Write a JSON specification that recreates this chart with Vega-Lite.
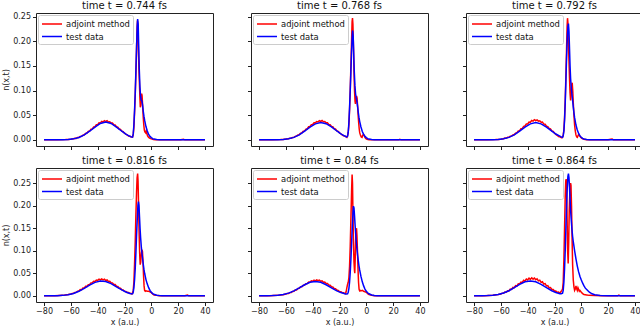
{
"$schema": "https://vega.github.io/schema/vega-lite/v6.json",
"padding": {"left": 2, "top": 0, "right": 2, "bottom": 0},
"background": "white",
"config": {
  "font": "DejaVu Sans",
  "view": {"stroke": "#222", "strokeWidth": 1},
  "axis": {"grid": false, "domain": false, "minExtent": 0, "tickColor": "#222", "tickSize": 3.5, "labelFontSize": 8, "labelColor": "#222", "titleFontSize": 8, "titleFontWeight": "normal", "titleColor": "#222", "labelPadding": 2, "titlePadding": 2},
  "title": {"fontSize": 10, "fontWeight": "normal", "offset": 2, "color": "#111"},
  "legend": {"orient": "top-left", "offset": 2, "fillColor": "rgba(255,255,255,0.8)", "strokeColor": "#ccc", "cornerRadius": 2, "padding": 3, "symbolType": "M-2,0H2", "symbolStrokeWidth": 1.5, "symbolSize": 100, "symbolOffset": 5, "labelOffset": 8, "labelFontSize": 8.4, "labelColor": "#111", "rowPadding": 1.5}
},
"datasets": {"d": [
{"p":"a","k":"a","x":-80,"y":0},{"p":"a","k":"a","x":-70,"y":0.0002},{"p":"a","k":"a","x":-64,"y":0.0005},{"p":"a","k":"a","x":-62,"y":0.0008},{"p":"a","k":"a","x":-60,"y":0.0013},{"p":"a","k":"a","x":-58,"y":0.0021},{"p":"a","k":"a","x":-57,"y":0.0032},{"p":"a","k":"a","x":-56,"y":0.003},{"p":"a","k":"a","x":-55,"y":0.0048},{"p":"a","k":"a","x":-54,"y":0.0048},{"p":"a","k":"a","x":-53,"y":0.0068},{"p":"a","k":"a","x":-52,"y":0.0072},{"p":"a","k":"a","x":-51,"y":0.0095},{"p":"a","k":"a","x":-50,"y":0.0102},{"p":"a","k":"a","x":-49,"y":0.013},{"p":"a","k":"a","x":-48,"y":0.0138},{"p":"a","k":"a","x":-47,"y":0.017},{"p":"a","k":"a","x":-46,"y":0.0178},{"p":"a","k":"a","x":-45,"y":0.0215},{"p":"a","k":"a","x":-44,"y":0.0222},{"p":"a","k":"a","x":-43,"y":0.0262},{"p":"a","k":"a","x":-42,"y":0.0268},{"p":"a","k":"a","x":-41,"y":0.0305},{"p":"a","k":"a","x":-40,"y":0.0308},{"p":"a","k":"a","x":-39,"y":0.0345},{"p":"a","k":"a","x":-38,"y":0.0342},{"p":"a","k":"a","x":-37,"y":0.0375},{"p":"a","k":"a","x":-36,"y":0.0362},{"p":"a","k":"a","x":-35,"y":0.039},{"p":"a","k":"a","x":-34,"y":0.0372},{"p":"a","k":"a","x":-33,"y":0.0388},{"p":"a","k":"a","x":-32,"y":0.0362},{"p":"a","k":"a","x":-31,"y":0.0368},{"p":"a","k":"a","x":-30,"y":0.034},{"p":"a","k":"a","x":-29,"y":0.0342},{"p":"a","k":"a","x":-28,"y":0.0305},{"p":"a","k":"a","x":-27,"y":0.0302},{"p":"a","k":"a","x":-26,"y":0.0265},{"p":"a","k":"a","x":-25,"y":0.0258},{"p":"a","k":"a","x":-24,"y":0.022},{"p":"a","k":"a","x":-23,"y":0.0212},{"p":"a","k":"a","x":-22,"y":0.0175},{"p":"a","k":"a","x":-21,"y":0.0165},{"p":"a","k":"a","x":-20,"y":0.0135},{"p":"a","k":"a","x":-19,"y":0.0118},{"p":"a","k":"a","x":-18,"y":0.0098},{"p":"a","k":"a","x":-17,"y":0.0078},{"p":"a","k":"a","x":-16,"y":0.0072},{"p":"a","k":"a","x":-15,"y":0.006},{"p":"a","k":"a","x":-14,"y":0.006},{"p":"a","k":"a","x":-13.5,"y":0.01},{"p":"a","k":"a","x":-13,"y":0.025},{"p":"a","k":"a","x":-12.5,"y":0.055},{"p":"a","k":"a","x":-12,"y":0.09},{"p":"a","k":"a","x":-11.5,"y":0.135},{"p":"a","k":"a","x":-11,"y":0.185},{"p":"a","k":"a","x":-10.6,"y":0.228},{"p":"a","k":"a","x":-10.3,"y":0.242},{"p":"a","k":"a","x":-10,"y":0.232},{"p":"a","k":"a","x":-9.6,"y":0.18},{"p":"a","k":"a","x":-9.2,"y":0.14},{"p":"a","k":"a","x":-8.8,"y":0.11},{"p":"a","k":"a","x":-8.5,"y":0.085},{"p":"a","k":"a","x":-8.2,"y":0.066},{"p":"a","k":"a","x":-7.9,"y":0.07},{"p":"a","k":"a","x":-7.5,"y":0.09},{"p":"a","k":"a","x":-7.2,"y":0.094},{"p":"a","k":"a","x":-6.9,"y":0.09},{"p":"a","k":"a","x":-6.6,"y":0.075},{"p":"a","k":"a","x":-6.3,"y":0.06},{"p":"a","k":"a","x":-6,"y":0.045},{"p":"a","k":"a","x":-5.6,"y":0.03},{"p":"a","k":"a","x":-5.2,"y":0.02},{"p":"a","k":"a","x":-4.8,"y":0.016},{"p":"a","k":"a","x":-4.2,"y":0.014},{"p":"a","k":"a","x":-3.8,"y":0.018},{"p":"a","k":"a","x":-3.3,"y":0.013},{"p":"a","k":"a","x":-2.8,"y":0.008},{"p":"a","k":"a","x":-2,"y":0.005},{"p":"a","k":"a","x":-1,"y":0.003},{"p":"a","k":"a","x":0,"y":0.002},{"p":"a","k":"a","x":1.5,"y":0.0005},{"p":"a","k":"a","x":3,"y":0},{"p":"a","k":"a","x":22,"y":0},{"p":"a","k":"a","x":24,"y":0.001},{"p":"a","k":"a","x":25,"y":0},{"p":"a","k":"a","x":40,"y":0},
{"p":"a","k":"t","x":-80,"y":0},{"p":"a","k":"t","x":-70,"y":0.0001},{"p":"a","k":"t","x":-66,"y":0.0002},{"p":"a","k":"t","x":-62,"y":0.0007},{"p":"a","k":"t","x":-58,"y":0.002},{"p":"a","k":"t","x":-54,"y":0.0049},{"p":"a","k":"t","x":-50,"y":0.01},{"p":"a","k":"t","x":-46,"y":0.0175},{"p":"a","k":"t","x":-42,"y":0.026},{"p":"a","k":"t","x":-38,"y":0.0332},{"p":"a","k":"t","x":-34,"y":0.036},{"p":"a","k":"t","x":-30,"y":0.0332},{"p":"a","k":"t","x":-26,"y":0.026},{"p":"a","k":"t","x":-22,"y":0.0175},{"p":"a","k":"t","x":-19,"y":0.0117},{"p":"a","k":"t","x":-16,"y":0.0072},{"p":"a","k":"t","x":-15,"y":0.006},{"p":"a","k":"t","x":-14,"y":0.0055},{"p":"a","k":"t","x":-13.5,"y":0.012},{"p":"a","k":"t","x":-13,"y":0.03},{"p":"a","k":"t","x":-12.5,"y":0.06},{"p":"a","k":"t","x":-12,"y":0.095},{"p":"a","k":"t","x":-11.5,"y":0.14},{"p":"a","k":"t","x":-11,"y":0.19},{"p":"a","k":"t","x":-10.5,"y":0.232},{"p":"a","k":"t","x":-10.2,"y":0.245},{"p":"a","k":"t","x":-9.8,"y":0.235},{"p":"a","k":"t","x":-9.4,"y":0.19},{"p":"a","k":"t","x":-9,"y":0.145},{"p":"a","k":"t","x":-8.5,"y":0.108},{"p":"a","k":"t","x":-8,"y":0.088},{"p":"a","k":"t","x":-7.5,"y":0.08},{"p":"a","k":"t","x":-7,"y":0.079},{"p":"a","k":"t","x":-6.5,"y":0.07},{"p":"a","k":"t","x":-6,"y":0.058},{"p":"a","k":"t","x":-5.5,"y":0.048},{"p":"a","k":"t","x":-5,"y":0.04},{"p":"a","k":"t","x":-4,"y":0.027},{"p":"a","k":"t","x":-3,"y":0.018},{"p":"a","k":"t","x":-2,"y":0.011},{"p":"a","k":"t","x":-1,"y":0.007},{"p":"a","k":"t","x":0,"y":0.0045},{"p":"a","k":"t","x":1,"y":0.0025},{"p":"a","k":"t","x":2,"y":0.0015},{"p":"a","k":"t","x":4,"y":0.0005},{"p":"a","k":"t","x":6,"y":0.0001},{"p":"a","k":"t","x":10,"y":0},{"p":"a","k":"t","x":40,"y":0},

{"p":"b","k":"a","x":-80,"y":0},{"p":"b","k":"a","x":-70,"y":0.0002},{"p":"b","k":"a","x":-64,"y":0.0006},{"p":"b","k":"a","x":-62,"y":0.0009},{"p":"b","k":"a","x":-60,"y":0.0015},{"p":"b","k":"a","x":-58,"y":0.0023},{"p":"b","k":"a","x":-57,"y":0.0034},{"p":"b","k":"a","x":-56,"y":0.0033},{"p":"b","k":"a","x":-55,"y":0.005},{"p":"b","k":"a","x":-54,"y":0.0052},{"p":"b","k":"a","x":-53,"y":0.0071},{"p":"b","k":"a","x":-52,"y":0.0076},{"p":"b","k":"a","x":-51,"y":0.0099},{"p":"b","k":"a","x":-50,"y":0.0106},{"p":"b","k":"a","x":-49,"y":0.0134},{"p":"b","k":"a","x":-48,"y":0.0142},{"p":"b","k":"a","x":-47,"y":0.0174},{"p":"b","k":"a","x":-46,"y":0.0182},{"p":"b","k":"a","x":-45,"y":0.0219},{"p":"b","k":"a","x":-44,"y":0.0225},{"p":"b","k":"a","x":-43,"y":0.0266},{"p":"b","k":"a","x":-42,"y":0.0271},{"p":"b","k":"a","x":-41,"y":0.0308},{"p":"b","k":"a","x":-40,"y":0.0312},{"p":"b","k":"a","x":-39,"y":0.0348},{"p":"b","k":"a","x":-38,"y":0.0345},{"p":"b","k":"a","x":-37,"y":0.0372},{"p":"b","k":"a","x":-36,"y":0.0365},{"p":"b","k":"a","x":-35,"y":0.0388},{"p":"b","k":"a","x":-34,"y":0.0375},{"p":"b","k":"a","x":-33,"y":0.0392},{"p":"b","k":"a","x":-32,"y":0.0368},{"p":"b","k":"a","x":-31,"y":0.0372},{"p":"b","k":"a","x":-30,"y":0.0346},{"p":"b","k":"a","x":-29,"y":0.0348},{"p":"b","k":"a","x":-28,"y":0.0312},{"p":"b","k":"a","x":-27,"y":0.0309},{"p":"b","k":"a","x":-26,"y":0.0272},{"p":"b","k":"a","x":-25,"y":0.0266},{"p":"b","k":"a","x":-24,"y":0.0228},{"p":"b","k":"a","x":-23,"y":0.022},{"p":"b","k":"a","x":-22,"y":0.0183},{"p":"b","k":"a","x":-21,"y":0.0172},{"p":"b","k":"a","x":-20,"y":0.0142},{"p":"b","k":"a","x":-19,"y":0.0124},{"p":"b","k":"a","x":-18,"y":0.0102},{"p":"b","k":"a","x":-17,"y":0.0082},{"p":"b","k":"a","x":-16,"y":0.0075},{"p":"b","k":"a","x":-15,"y":0.006},{"p":"b","k":"a","x":-14.5,"y":0.005},{"p":"b","k":"a","x":-14,"y":0.008},{"p":"b","k":"a","x":-13.5,"y":0.015},{"p":"b","k":"a","x":-13,"y":0.03},{"p":"b","k":"a","x":-12.5,"y":0.06},{"p":"b","k":"a","x":-12,"y":0.1},{"p":"b","k":"a","x":-11.5,"y":0.15},{"p":"b","k":"a","x":-11,"y":0.2},{"p":"b","k":"a","x":-10.6,"y":0.24},{"p":"b","k":"a","x":-10.3,"y":0.247},{"p":"b","k":"a","x":-10,"y":0.235},{"p":"b","k":"a","x":-9.6,"y":0.19},{"p":"b","k":"a","x":-9.2,"y":0.14},{"p":"b","k":"a","x":-8.8,"y":0.1},{"p":"b","k":"a","x":-8.4,"y":0.078},{"p":"b","k":"a","x":-8.1,"y":0.073},{"p":"b","k":"a","x":-7.7,"y":0.082},{"p":"b","k":"a","x":-7.3,"y":0.089},{"p":"b","k":"a","x":-6.9,"y":0.085},{"p":"b","k":"a","x":-6.5,"y":0.068},{"p":"b","k":"a","x":-6.1,"y":0.05},{"p":"b","k":"a","x":-5.7,"y":0.035},{"p":"b","k":"a","x":-5.3,"y":0.022},{"p":"b","k":"a","x":-4.9,"y":0.014},{"p":"b","k":"a","x":-4.4,"y":0.01},{"p":"b","k":"a","x":-3.8,"y":0.006},{"p":"b","k":"a","x":-3.2,"y":0.005},{"p":"b","k":"a","x":-2.7,"y":0.009},{"p":"b","k":"a","x":-2.2,"y":0.011},{"p":"b","k":"a","x":-1.7,"y":0.01},{"p":"b","k":"a","x":-1.2,"y":0.006},{"p":"b","k":"a","x":-0.5,"y":0.003},{"p":"b","k":"a","x":0.5,"y":0.001},{"p":"b","k":"a","x":2,"y":0},{"p":"b","k":"a","x":24,"y":0},{"p":"b","k":"a","x":25,"y":0.001},{"p":"b","k":"a","x":26,"y":0},{"p":"b","k":"a","x":40,"y":0},
{"p":"b","k":"t","x":-80,"y":0},{"p":"b","k":"t","x":-70,"y":0.0001},{"p":"b","k":"t","x":-66,"y":0.0002},{"p":"b","k":"t","x":-62,"y":0.0008},{"p":"b","k":"t","x":-58,"y":0.0021},{"p":"b","k":"t","x":-54,"y":0.005},{"p":"b","k":"t","x":-50,"y":0.0102},{"p":"b","k":"t","x":-46,"y":0.0176},{"p":"b","k":"t","x":-42,"y":0.0259},{"p":"b","k":"t","x":-38,"y":0.0325},{"p":"b","k":"t","x":-34,"y":0.035},{"p":"b","k":"t","x":-30,"y":0.0328},{"p":"b","k":"t","x":-26,"y":0.0264},{"p":"b","k":"t","x":-22,"y":0.018},{"p":"b","k":"t","x":-19,"y":0.0122},{"p":"b","k":"t","x":-16,"y":0.0077},{"p":"b","k":"t","x":-15,"y":0.0064},{"p":"b","k":"t","x":-14.5,"y":0.006},{"p":"b","k":"t","x":-14,"y":0.0075},{"p":"b","k":"t","x":-13.5,"y":0.015},{"p":"b","k":"t","x":-13,"y":0.035},{"p":"b","k":"t","x":-12.5,"y":0.065},{"p":"b","k":"t","x":-12,"y":0.1},{"p":"b","k":"t","x":-11.5,"y":0.14},{"p":"b","k":"t","x":-11,"y":0.18},{"p":"b","k":"t","x":-10.5,"y":0.21},{"p":"b","k":"t","x":-10.2,"y":0.222},{"p":"b","k":"t","x":-9.8,"y":0.21},{"p":"b","k":"t","x":-9.4,"y":0.175},{"p":"b","k":"t","x":-9,"y":0.14},{"p":"b","k":"t","x":-8.5,"y":0.11},{"p":"b","k":"t","x":-8,"y":0.093},{"p":"b","k":"t","x":-7.5,"y":0.085},{"p":"b","k":"t","x":-7,"y":0.078},{"p":"b","k":"t","x":-6.5,"y":0.068},{"p":"b","k":"t","x":-6,"y":0.056},{"p":"b","k":"t","x":-5.5,"y":0.046},{"p":"b","k":"t","x":-5,"y":0.038},{"p":"b","k":"t","x":-4,"y":0.026},{"p":"b","k":"t","x":-3,"y":0.017},{"p":"b","k":"t","x":-2,"y":0.011},{"p":"b","k":"t","x":-1,"y":0.007},{"p":"b","k":"t","x":0,"y":0.0045},{"p":"b","k":"t","x":1,"y":0.0025},{"p":"b","k":"t","x":2,"y":0.0015},{"p":"b","k":"t","x":4,"y":0.0005},{"p":"b","k":"t","x":6,"y":0.0001},{"p":"b","k":"t","x":10,"y":0},{"p":"b","k":"t","x":40,"y":0},

{"p":"c","k":"a","x":-80,"y":0},{"p":"c","k":"a","x":-70,"y":0.0002},{"p":"c","k":"a","x":-64,"y":0.0005},{"p":"c","k":"a","x":-62,"y":0.0009},{"p":"c","k":"a","x":-60,"y":0.0014},{"p":"c","k":"a","x":-58,"y":0.0022},{"p":"c","k":"a","x":-57,"y":0.0035},{"p":"c","k":"a","x":-56,"y":0.0032},{"p":"c","k":"a","x":-55,"y":0.0052},{"p":"c","k":"a","x":-54,"y":0.0051},{"p":"c","k":"a","x":-53,"y":0.0072},{"p":"c","k":"a","x":-52,"y":0.0076},{"p":"c","k":"a","x":-51,"y":0.01},{"p":"c","k":"a","x":-50,"y":0.0107},{"p":"c","k":"a","x":-49,"y":0.0137},{"p":"c","k":"a","x":-48,"y":0.0145},{"p":"c","k":"a","x":-47,"y":0.0179},{"p":"c","k":"a","x":-46,"y":0.0187},{"p":"c","k":"a","x":-45,"y":0.0226},{"p":"c","k":"a","x":-44,"y":0.0233},{"p":"c","k":"a","x":-43,"y":0.0275},{"p":"c","k":"a","x":-42,"y":0.0281},{"p":"c","k":"a","x":-41,"y":0.032},{"p":"c","k":"a","x":-40,"y":0.0323},{"p":"c","k":"a","x":-39,"y":0.0362},{"p":"c","k":"a","x":-38,"y":0.0358},{"p":"c","k":"a","x":-37,"y":0.0393},{"p":"c","k":"a","x":-36,"y":0.038},{"p":"c","k":"a","x":-35,"y":0.0408},{"p":"c","k":"a","x":-34,"y":0.039},{"p":"c","k":"a","x":-33,"y":0.0406},{"p":"c","k":"a","x":-32,"y":0.038},{"p":"c","k":"a","x":-31,"y":0.0386},{"p":"c","k":"a","x":-30,"y":0.0356},{"p":"c","k":"a","x":-29,"y":0.0359},{"p":"c","k":"a","x":-28,"y":0.032},{"p":"c","k":"a","x":-27,"y":0.0317},{"p":"c","k":"a","x":-26,"y":0.0278},{"p":"c","k":"a","x":-25,"y":0.027},{"p":"c","k":"a","x":-24,"y":0.0231},{"p":"c","k":"a","x":-23,"y":0.0222},{"p":"c","k":"a","x":-22,"y":0.0183},{"p":"c","k":"a","x":-21,"y":0.0172},{"p":"c","k":"a","x":-20,"y":0.014},{"p":"c","k":"a","x":-19,"y":0.0112},{"p":"c","k":"a","x":-18,"y":0.0092},{"p":"c","k":"a","x":-17,"y":0.0068},{"p":"c","k":"a","x":-16,"y":0.0062},{"p":"c","k":"a","x":-15,"y":0.0048},{"p":"c","k":"a","x":-14.5,"y":0.004},{"p":"c","k":"a","x":-14,"y":0.005},{"p":"c","k":"a","x":-13.5,"y":0.01},{"p":"c","k":"a","x":-13,"y":0.02},{"p":"c","k":"a","x":-12.5,"y":0.045},{"p":"c","k":"a","x":-12,"y":0.08},{"p":"c","k":"a","x":-11.5,"y":0.13},{"p":"c","k":"a","x":-11,"y":0.185},{"p":"c","k":"a","x":-10.6,"y":0.23},{"p":"c","k":"a","x":-10.3,"y":0.247},{"p":"c","k":"a","x":-10,"y":0.238},{"p":"c","k":"a","x":-9.6,"y":0.2},{"p":"c","k":"a","x":-9.2,"y":0.16},{"p":"c","k":"a","x":-8.8,"y":0.125},{"p":"c","k":"a","x":-8.4,"y":0.095},{"p":"c","k":"a","x":-8,"y":0.08},{"p":"c","k":"a","x":-7.6,"y":0.09},{"p":"c","k":"a","x":-7.2,"y":0.11},{"p":"c","k":"a","x":-6.8,"y":0.116},{"p":"c","k":"a","x":-6.4,"y":0.1},{"p":"c","k":"a","x":-6,"y":0.075},{"p":"c","k":"a","x":-5.5,"y":0.05},{"p":"c","k":"a","x":-5,"y":0.03},{"p":"c","k":"a","x":-4.5,"y":0.018},{"p":"c","k":"a","x":-4,"y":0.01},{"p":"c","k":"a","x":-3.5,"y":0.006},{"p":"c","k":"a","x":-3,"y":0.005},{"p":"c","k":"a","x":-2.5,"y":0.008},{"p":"c","k":"a","x":-2,"y":0.011},{"p":"c","k":"a","x":-1.5,"y":0.01},{"p":"c","k":"a","x":-1,"y":0.007},{"p":"c","k":"a","x":0,"y":0.004},{"p":"c","k":"a","x":1,"y":0.002},{"p":"c","k":"a","x":2,"y":0.001},{"p":"c","k":"a","x":4,"y":0},{"p":"c","k":"a","x":20,"y":0},{"p":"c","k":"a","x":22,"y":0.001},{"p":"c","k":"a","x":23,"y":0.0015},{"p":"c","k":"a","x":24,"y":0},{"p":"c","k":"a","x":40,"y":0},
{"p":"c","k":"t","x":-80,"y":0},{"p":"c","k":"t","x":-70,"y":0.0001},{"p":"c","k":"t","x":-66,"y":0.0002},{"p":"c","k":"t","x":-62,"y":0.0008},{"p":"c","k":"t","x":-58,"y":0.0021},{"p":"c","k":"t","x":-54,"y":0.005},{"p":"c","k":"t","x":-50,"y":0.0102},{"p":"c","k":"t","x":-46,"y":0.0176},{"p":"c","k":"t","x":-42,"y":0.0259},{"p":"c","k":"t","x":-38,"y":0.0325},{"p":"c","k":"t","x":-34,"y":0.035},{"p":"c","k":"t","x":-30,"y":0.0325},{"p":"c","k":"t","x":-26,"y":0.0259},{"p":"c","k":"t","x":-22,"y":0.0176},{"p":"c","k":"t","x":-19,"y":0.0118},{"p":"c","k":"t","x":-16,"y":0.0075},{"p":"c","k":"t","x":-15,"y":0.006},{"p":"c","k":"t","x":-14,"y":0.005},{"p":"c","k":"t","x":-13.5,"y":0.008},{"p":"c","k":"t","x":-13,"y":0.018},{"p":"c","k":"t","x":-12.5,"y":0.04},{"p":"c","k":"t","x":-12,"y":0.075},{"p":"c","k":"t","x":-11.5,"y":0.12},{"p":"c","k":"t","x":-11,"y":0.165},{"p":"c","k":"t","x":-10.5,"y":0.205},{"p":"c","k":"t","x":-10,"y":0.23},{"p":"c","k":"t","x":-9.6,"y":0.236},{"p":"c","k":"t","x":-9.2,"y":0.22},{"p":"c","k":"t","x":-8.8,"y":0.185},{"p":"c","k":"t","x":-8.4,"y":0.15},{"p":"c","k":"t","x":-8,"y":0.125},{"p":"c","k":"t","x":-7.5,"y":0.105},{"p":"c","k":"t","x":-7,"y":0.093},{"p":"c","k":"t","x":-6.5,"y":0.08},{"p":"c","k":"t","x":-6,"y":0.067},{"p":"c","k":"t","x":-5.5,"y":0.055},{"p":"c","k":"t","x":-5,"y":0.045},{"p":"c","k":"t","x":-4,"y":0.03},{"p":"c","k":"t","x":-3,"y":0.02},{"p":"c","k":"t","x":-2,"y":0.013},{"p":"c","k":"t","x":-1,"y":0.008},{"p":"c","k":"t","x":0,"y":0.005},{"p":"c","k":"t","x":1,"y":0.003},{"p":"c","k":"t","x":2,"y":0.0018},{"p":"c","k":"t","x":4,"y":0.0006},{"p":"c","k":"t","x":6,"y":0.0001},{"p":"c","k":"t","x":10,"y":0},{"p":"c","k":"t","x":40,"y":0},

{"p":"d","k":"a","x":-80,"y":0.0002},{"p":"d","k":"a","x":-72,"y":0.0003},{"p":"d","k":"a","x":-66,"y":0.001},{"p":"d","k":"a","x":-62,"y":0.0027},{"p":"d","k":"a","x":-60,"y":0.004},{"p":"d","k":"a","x":-59,"y":0.0052},{"p":"d","k":"a","x":-58,"y":0.0055},{"p":"d","k":"a","x":-57,"y":0.0075},{"p":"d","k":"a","x":-56,"y":0.0079},{"p":"d","k":"a","x":-55,"y":0.0102},{"p":"d","k":"a","x":-54,"y":0.0105},{"p":"d","k":"a","x":-53,"y":0.0138},{"p":"d","k":"a","x":-52,"y":0.0137},{"p":"d","k":"a","x":-51,"y":0.0172},{"p":"d","k":"a","x":-50,"y":0.0175},{"p":"d","k":"a","x":-49,"y":0.0212},{"p":"d","k":"a","x":-48,"y":0.021},{"p":"d","k":"a","x":-47,"y":0.0248},{"p":"d","k":"a","x":-46,"y":0.0252},{"p":"d","k":"a","x":-45,"y":0.0285},{"p":"d","k":"a","x":-44,"y":0.029},{"p":"d","k":"a","x":-43,"y":0.0322},{"p":"d","k":"a","x":-42,"y":0.0318},{"p":"d","k":"a","x":-41,"y":0.0348},{"p":"d","k":"a","x":-40,"y":0.0342},{"p":"d","k":"a","x":-39,"y":0.0368},{"p":"d","k":"a","x":-38,"y":0.0352},{"p":"d","k":"a","x":-37,"y":0.0375},{"p":"d","k":"a","x":-36,"y":0.0355},{"p":"d","k":"a","x":-35,"y":0.0368},{"p":"d","k":"a","x":-34,"y":0.0341},{"p":"d","k":"a","x":-33,"y":0.0352},{"p":"d","k":"a","x":-32,"y":0.0318},{"p":"d","k":"a","x":-31,"y":0.0322},{"p":"d","k":"a","x":-30,"y":0.0288},{"p":"d","k":"a","x":-29,"y":0.0287},{"p":"d","k":"a","x":-28,"y":0.0252},{"p":"d","k":"a","x":-27,"y":0.025},{"p":"d","k":"a","x":-26,"y":0.0212},{"p":"d","k":"a","x":-25,"y":0.0208},{"p":"d","k":"a","x":-24,"y":0.0172},{"p":"d","k":"a","x":-23,"y":0.0168},{"p":"d","k":"a","x":-22,"y":0.0135},{"p":"d","k":"a","x":-21,"y":0.0128},{"p":"d","k":"a","x":-20,"y":0.0102},{"p":"d","k":"a","x":-19,"y":0.0098},{"p":"d","k":"a","x":-18,"y":0.0075},{"p":"d","k":"a","x":-17,"y":0.0072},{"p":"d","k":"a","x":-16,"y":0.0055},{"p":"d","k":"a","x":-15,"y":0.005},{"p":"d","k":"a","x":-14.5,"y":0.004},{"p":"d","k":"a","x":-14,"y":0.006},{"p":"d","k":"a","x":-13.5,"y":0.012},{"p":"d","k":"a","x":-13,"y":0.03},{"p":"d","k":"a","x":-12.5,"y":0.07},{"p":"d","k":"a","x":-12,"y":0.12},{"p":"d","k":"a","x":-11.5,"y":0.18},{"p":"d","k":"a","x":-11,"y":0.23},{"p":"d","k":"a","x":-10.6,"y":0.262},{"p":"d","k":"a","x":-10.2,"y":0.271},{"p":"d","k":"a","x":-9.9,"y":0.255},{"p":"d","k":"a","x":-9.5,"y":0.2},{"p":"d","k":"a","x":-9.1,"y":0.14},{"p":"d","k":"a","x":-8.7,"y":0.095},{"p":"d","k":"a","x":-8.3,"y":0.069},{"p":"d","k":"a","x":-7.9,"y":0.075},{"p":"d","k":"a","x":-7.4,"y":0.095},{"p":"d","k":"a","x":-7,"y":0.102},{"p":"d","k":"a","x":-6.6,"y":0.098},{"p":"d","k":"a","x":-6.2,"y":0.075},{"p":"d","k":"a","x":-5.8,"y":0.045},{"p":"d","k":"a","x":-5.4,"y":0.022},{"p":"d","k":"a","x":-5,"y":0.012},{"p":"d","k":"a","x":-4.5,"y":0.01},{"p":"d","k":"a","x":-4,"y":0.011},{"p":"d","k":"a","x":-3,"y":0.01},{"p":"d","k":"a","x":-2,"y":0.01},{"p":"d","k":"a","x":-1,"y":0.009},{"p":"d","k":"a","x":0,"y":0.007},{"p":"d","k":"a","x":1,"y":0.004},{"p":"d","k":"a","x":2,"y":0.002},{"p":"d","k":"a","x":4,"y":0.001},{"p":"d","k":"a","x":6,"y":0},{"p":"d","k":"a","x":25,"y":0},{"p":"d","k":"a","x":27,"y":0.0015},{"p":"d","k":"a","x":28,"y":0},{"p":"d","k":"a","x":40,"y":0},
{"p":"d","k":"t","x":-80,"y":0.0002},{"p":"d","k":"t","x":-74,"y":0.0003},{"p":"d","k":"t","x":-70,"y":0.0004},{"p":"d","k":"t","x":-66,"y":0.001},{"p":"d","k":"t","x":-62,"y":0.0025},{"p":"d","k":"t","x":-58,"y":0.0053},{"p":"d","k":"t","x":-54,"y":0.01},{"p":"d","k":"t","x":-50,"y":0.0164},{"p":"d","k":"t","x":-46,"y":0.0236},{"p":"d","k":"t","x":-42,"y":0.0298},{"p":"d","k":"t","x":-38,"y":0.0329},{"p":"d","k":"t","x":-34,"y":0.0318},{"p":"d","k":"t","x":-30,"y":0.027},{"p":"d","k":"t","x":-26,"y":0.02},{"p":"d","k":"t","x":-22,"y":0.013},{"p":"d","k":"t","x":-19,"y":0.0086},{"p":"d","k":"t","x":-16,"y":0.0053},{"p":"d","k":"t","x":-15,"y":0.0045},{"p":"d","k":"t","x":-14,"y":0.0045},{"p":"d","k":"t","x":-13.5,"y":0.008},{"p":"d","k":"t","x":-13,"y":0.018},{"p":"d","k":"t","x":-12.5,"y":0.035},{"p":"d","k":"t","x":-12,"y":0.06},{"p":"d","k":"t","x":-11.5,"y":0.095},{"p":"d","k":"t","x":-11,"y":0.135},{"p":"d","k":"t","x":-10.5,"y":0.17},{"p":"d","k":"t","x":-10,"y":0.2},{"p":"d","k":"t","x":-9.6,"y":0.209},{"p":"d","k":"t","x":-9.2,"y":0.2},{"p":"d","k":"t","x":-8.8,"y":0.175},{"p":"d","k":"t","x":-8.4,"y":0.15},{"p":"d","k":"t","x":-8,"y":0.13},{"p":"d","k":"t","x":-7.5,"y":0.11},{"p":"d","k":"t","x":-7,"y":0.095},{"p":"d","k":"t","x":-6.5,"y":0.082},{"p":"d","k":"t","x":-6,"y":0.07},{"p":"d","k":"t","x":-5.5,"y":0.059},{"p":"d","k":"t","x":-5,"y":0.05},{"p":"d","k":"t","x":-4,"y":0.036},{"p":"d","k":"t","x":-3,"y":0.026},{"p":"d","k":"t","x":-2,"y":0.018},{"p":"d","k":"t","x":-1,"y":0.012},{"p":"d","k":"t","x":0,"y":0.008},{"p":"d","k":"t","x":1,"y":0.005},{"p":"d","k":"t","x":2,"y":0.0035},{"p":"d","k":"t","x":4,"y":0.0015},{"p":"d","k":"t","x":6,"y":0.0006},{"p":"d","k":"t","x":8,"y":0.0002},{"p":"d","k":"t","x":12,"y":0},{"p":"d","k":"t","x":40,"y":0},

{"p":"e","k":"a","x":-80,"y":0.0002},{"p":"e","k":"a","x":-72,"y":0.0003},{"p":"e","k":"a","x":-66,"y":0.001},{"p":"e","k":"a","x":-62,"y":0.0026},{"p":"e","k":"a","x":-60,"y":0.0038},{"p":"e","k":"a","x":-59,"y":0.005},{"p":"e","k":"a","x":-58,"y":0.0052},{"p":"e","k":"a","x":-57,"y":0.0071},{"p":"e","k":"a","x":-56,"y":0.0075},{"p":"e","k":"a","x":-55,"y":0.0097},{"p":"e","k":"a","x":-54,"y":0.01},{"p":"e","k":"a","x":-53,"y":0.013},{"p":"e","k":"a","x":-52,"y":0.013},{"p":"e","k":"a","x":-51,"y":0.0163},{"p":"e","k":"a","x":-50,"y":0.0166},{"p":"e","k":"a","x":-49,"y":0.02},{"p":"e","k":"a","x":-48,"y":0.0199},{"p":"e","k":"a","x":-47,"y":0.0235},{"p":"e","k":"a","x":-46,"y":0.0238},{"p":"e","k":"a","x":-45,"y":0.027},{"p":"e","k":"a","x":-44,"y":0.0274},{"p":"e","k":"a","x":-43,"y":0.0305},{"p":"e","k":"a","x":-42,"y":0.03},{"p":"e","k":"a","x":-41,"y":0.033},{"p":"e","k":"a","x":-40,"y":0.0323},{"p":"e","k":"a","x":-39,"y":0.0348},{"p":"e","k":"a","x":-38,"y":0.0333},{"p":"e","k":"a","x":-37,"y":0.0355},{"p":"e","k":"a","x":-36,"y":0.0336},{"p":"e","k":"a","x":-35,"y":0.0348},{"p":"e","k":"a","x":-34,"y":0.0322},{"p":"e","k":"a","x":-33,"y":0.0333},{"p":"e","k":"a","x":-32,"y":0.03},{"p":"e","k":"a","x":-31,"y":0.0305},{"p":"e","k":"a","x":-30,"y":0.0272},{"p":"e","k":"a","x":-29,"y":0.0271},{"p":"e","k":"a","x":-28,"y":0.0238},{"p":"e","k":"a","x":-27,"y":0.0236},{"p":"e","k":"a","x":-26,"y":0.02},{"p":"e","k":"a","x":-25,"y":0.0197},{"p":"e","k":"a","x":-24,"y":0.0162},{"p":"e","k":"a","x":-23,"y":0.0159},{"p":"e","k":"a","x":-22,"y":0.0128},{"p":"e","k":"a","x":-21,"y":0.0121},{"p":"e","k":"a","x":-20,"y":0.0096},{"p":"e","k":"a","x":-19,"y":0.0093},{"p":"e","k":"a","x":-18,"y":0.0071},{"p":"e","k":"a","x":-17,"y":0.0068},{"p":"e","k":"a","x":-16,"y":0.005},{"p":"e","k":"a","x":-15.5,"y":0.0045},{"p":"e","k":"a","x":-15,"y":0.01},{"p":"e","k":"a","x":-14.5,"y":0.018},{"p":"e","k":"a","x":-14,"y":0.025},{"p":"e","k":"a","x":-13.5,"y":0.03},{"p":"e","k":"a","x":-13,"y":0.04},{"p":"e","k":"a","x":-12.5,"y":0.065},{"p":"e","k":"a","x":-12,"y":0.11},{"p":"e","k":"a","x":-11.5,"y":0.17},{"p":"e","k":"a","x":-11,"y":0.23},{"p":"e","k":"a","x":-10.6,"y":0.269},{"p":"e","k":"a","x":-10.3,"y":0.25},{"p":"e","k":"a","x":-10,"y":0.19},{"p":"e","k":"a","x":-9.6,"y":0.12},{"p":"e","k":"a","x":-9.2,"y":0.075},{"p":"e","k":"a","x":-8.8,"y":0.055},{"p":"e","k":"a","x":-8.6,"y":0.05},{"p":"e","k":"a","x":-8.3,"y":0.08},{"p":"e","k":"a","x":-8,"y":0.12},{"p":"e","k":"a","x":-7.6,"y":0.148},{"p":"e","k":"a","x":-7.3,"y":0.15},{"p":"e","k":"a","x":-7,"y":0.135},{"p":"e","k":"a","x":-6.6,"y":0.1},{"p":"e","k":"a","x":-6.2,"y":0.06},{"p":"e","k":"a","x":-5.8,"y":0.03},{"p":"e","k":"a","x":-5.4,"y":0.015},{"p":"e","k":"a","x":-5,"y":0.011},{"p":"e","k":"a","x":-4.5,"y":0.012},{"p":"e","k":"a","x":-4,"y":0.011},{"p":"e","k":"a","x":-3,"y":0.012},{"p":"e","k":"a","x":-2,"y":0.01},{"p":"e","k":"a","x":-1,"y":0.009},{"p":"e","k":"a","x":0,"y":0.008},{"p":"e","k":"a","x":1,"y":0.005},{"p":"e","k":"a","x":2,"y":0.003},{"p":"e","k":"a","x":4,"y":0.0012},{"p":"e","k":"a","x":6,"y":0.0003},{"p":"e","k":"a","x":8,"y":0},{"p":"e","k":"a","x":40,"y":0},
{"p":"e","k":"t","x":-80,"y":0.0002},{"p":"e","k":"t","x":-74,"y":0.0003},{"p":"e","k":"t","x":-70,"y":0.0005},{"p":"e","k":"t","x":-66,"y":0.0012},{"p":"e","k":"t","x":-62,"y":0.0029},{"p":"e","k":"t","x":-58,"y":0.006},{"p":"e","k":"t","x":-54,"y":0.011},{"p":"e","k":"t","x":-50,"y":0.0175},{"p":"e","k":"t","x":-46,"y":0.0245},{"p":"e","k":"t","x":-42,"y":0.03},{"p":"e","k":"t","x":-38,"y":0.032},{"p":"e","k":"t","x":-34,"y":0.03},{"p":"e","k":"t","x":-30,"y":0.0246},{"p":"e","k":"t","x":-26,"y":0.0177},{"p":"e","k":"t","x":-22,"y":0.011},{"p":"e","k":"t","x":-19,"y":0.0072},{"p":"e","k":"t","x":-16,"y":0.0045},{"p":"e","k":"t","x":-15,"y":0.004},{"p":"e","k":"t","x":-14,"y":0.0045},{"p":"e","k":"t","x":-13.5,"y":0.008},{"p":"e","k":"t","x":-13,"y":0.016},{"p":"e","k":"t","x":-12.5,"y":0.03},{"p":"e","k":"t","x":-12,"y":0.052},{"p":"e","k":"t","x":-11.5,"y":0.08},{"p":"e","k":"t","x":-11,"y":0.115},{"p":"e","k":"t","x":-10.5,"y":0.15},{"p":"e","k":"t","x":-10,"y":0.182},{"p":"e","k":"t","x":-9.6,"y":0.199},{"p":"e","k":"t","x":-9.2,"y":0.195},{"p":"e","k":"t","x":-8.8,"y":0.178},{"p":"e","k":"t","x":-8.4,"y":0.158},{"p":"e","k":"t","x":-8,"y":0.14},{"p":"e","k":"t","x":-7.5,"y":0.12},{"p":"e","k":"t","x":-7,"y":0.104},{"p":"e","k":"t","x":-6.5,"y":0.09},{"p":"e","k":"t","x":-6,"y":0.078},{"p":"e","k":"t","x":-5.5,"y":0.067},{"p":"e","k":"t","x":-5,"y":0.058},{"p":"e","k":"t","x":-4,"y":0.043},{"p":"e","k":"t","x":-3,"y":0.031},{"p":"e","k":"t","x":-2,"y":0.022},{"p":"e","k":"t","x":-1,"y":0.015},{"p":"e","k":"t","x":0,"y":0.01},{"p":"e","k":"t","x":1,"y":0.0068},{"p":"e","k":"t","x":2,"y":0.0045},{"p":"e","k":"t","x":4,"y":0.002},{"p":"e","k":"t","x":6,"y":0.0008},{"p":"e","k":"t","x":8,"y":0.0003},{"p":"e","k":"t","x":12,"y":0},{"p":"e","k":"t","x":40,"y":0},

{"p":"f","k":"a","x":-80,"y":0.0002},{"p":"f","k":"a","x":-72,"y":0.0004},{"p":"f","k":"a","x":-66,"y":0.0011},{"p":"f","k":"a","x":-62,"y":0.0029},{"p":"f","k":"a","x":-60,"y":0.0042},{"p":"f","k":"a","x":-59,"y":0.0058},{"p":"f","k":"a","x":-58,"y":0.0056},{"p":"f","k":"a","x":-57,"y":0.0082},{"p":"f","k":"a","x":-56,"y":0.0081},{"p":"f","k":"a","x":-55,"y":0.0112},{"p":"f","k":"a","x":-54,"y":0.0108},{"p":"f","k":"a","x":-53,"y":0.015},{"p":"f","k":"a","x":-52,"y":0.0142},{"p":"f","k":"a","x":-51,"y":0.0186},{"p":"f","k":"a","x":-50,"y":0.0181},{"p":"f","k":"a","x":-49,"y":0.0228},{"p":"f","k":"a","x":-48,"y":0.0218},{"p":"f","k":"a","x":-47,"y":0.0267},{"p":"f","k":"a","x":-46,"y":0.0262},{"p":"f","k":"a","x":-45,"y":0.0306},{"p":"f","k":"a","x":-44,"y":0.0298},{"p":"f","k":"a","x":-43,"y":0.0345},{"p":"f","k":"a","x":-42,"y":0.0328},{"p":"f","k":"a","x":-41,"y":0.0372},{"p":"f","k":"a","x":-40,"y":0.0352},{"p":"f","k":"a","x":-39,"y":0.0392},{"p":"f","k":"a","x":-38,"y":0.0365},{"p":"f","k":"a","x":-37,"y":0.04},{"p":"f","k":"a","x":-36,"y":0.037},{"p":"f","k":"a","x":-35,"y":0.0394},{"p":"f","k":"a","x":-34,"y":0.0355},{"p":"f","k":"a","x":-33,"y":0.0378},{"p":"f","k":"a","x":-32,"y":0.0332},{"p":"f","k":"a","x":-31,"y":0.0348},{"p":"f","k":"a","x":-30,"y":0.0298},{"p":"f","k":"a","x":-29,"y":0.0312},{"p":"f","k":"a","x":-28,"y":0.0262},{"p":"f","k":"a","x":-27,"y":0.0272},{"p":"f","k":"a","x":-26,"y":0.022},{"p":"f","k":"a","x":-25,"y":0.0228},{"p":"f","k":"a","x":-24,"y":0.0178},{"p":"f","k":"a","x":-23,"y":0.0185},{"p":"f","k":"a","x":-22,"y":0.014},{"p":"f","k":"a","x":-21,"y":0.0142},{"p":"f","k":"a","x":-20,"y":0.0105},{"p":"f","k":"a","x":-19,"y":0.0108},{"p":"f","k":"a","x":-18,"y":0.0078},{"p":"f","k":"a","x":-17,"y":0.0082},{"p":"f","k":"a","x":-16,"y":0.006},{"p":"f","k":"a","x":-15,"y":0.01},{"p":"f","k":"a","x":-14.5,"y":0.012},{"p":"f","k":"a","x":-14,"y":0.015},{"p":"f","k":"a","x":-13.5,"y":0.03},{"p":"f","k":"a","x":-13,"y":0.08},{"p":"f","k":"a","x":-12.5,"y":0.15},{"p":"f","k":"a","x":-12,"y":0.22},{"p":"f","k":"a","x":-11.6,"y":0.255},{"p":"f","k":"a","x":-11.3,"y":0.259},{"p":"f","k":"a","x":-11,"y":0.24},{"p":"f","k":"a","x":-10.6,"y":0.17},{"p":"f","k":"a","x":-10.2,"y":0.1},{"p":"f","k":"a","x":-9.8,"y":0.072},{"p":"f","k":"a","x":-9.4,"y":0.12},{"p":"f","k":"a","x":-9,"y":0.19},{"p":"f","k":"a","x":-8.5,"y":0.235},{"p":"f","k":"a","x":-8,"y":0.25},{"p":"f","k":"a","x":-7.7,"y":0.245},{"p":"f","k":"a","x":-7.3,"y":0.2},{"p":"f","k":"a","x":-6.9,"y":0.13},{"p":"f","k":"a","x":-6.5,"y":0.07},{"p":"f","k":"a","x":-6,"y":0.035},{"p":"f","k":"a","x":-5.5,"y":0.02},{"p":"f","k":"a","x":-5,"y":0.012},{"p":"f","k":"a","x":-4.5,"y":0.015},{"p":"f","k":"a","x":-4,"y":0.022},{"p":"f","k":"a","x":-3.5,"y":0.016},{"p":"f","k":"a","x":-3,"y":0.012},{"p":"f","k":"a","x":-2.5,"y":0.018},{"p":"f","k":"a","x":-2,"y":0.014},{"p":"f","k":"a","x":-1.5,"y":0.01},{"p":"f","k":"a","x":-1,"y":0.012},{"p":"f","k":"a","x":0,"y":0.008},{"p":"f","k":"a","x":1,"y":0.005},{"p":"f","k":"a","x":2,"y":0.003},{"p":"f","k":"a","x":4,"y":0.002},{"p":"f","k":"a","x":6,"y":0.001},{"p":"f","k":"a","x":10,"y":0.0005},{"p":"f","k":"a","x":16,"y":0},{"p":"f","k":"a","x":27,"y":0},{"p":"f","k":"a","x":28,"y":0.0015},{"p":"f","k":"a","x":29,"y":0},{"p":"f","k":"a","x":40,"y":0},
{"p":"f","k":"t","x":-80,"y":0.0002},{"p":"f","k":"t","x":-74,"y":0.0003},{"p":"f","k":"t","x":-70,"y":0.0005},{"p":"f","k":"t","x":-66,"y":0.0013},{"p":"f","k":"t","x":-62,"y":0.003},{"p":"f","k":"t","x":-58,"y":0.0062},{"p":"f","k":"t","x":-54,"y":0.0113},{"p":"f","k":"t","x":-50,"y":0.018},{"p":"f","k":"t","x":-46,"y":0.0253},{"p":"f","k":"t","x":-42,"y":0.031},{"p":"f","k":"t","x":-38,"y":0.033},{"p":"f","k":"t","x":-34,"y":0.031},{"p":"f","k":"t","x":-30,"y":0.0253},{"p":"f","k":"t","x":-26,"y":0.0182},{"p":"f","k":"t","x":-22,"y":0.0113},{"p":"f","k":"t","x":-19,"y":0.0074},{"p":"f","k":"t","x":-16,"y":0.0048},{"p":"f","k":"t","x":-15,"y":0.0045},{"p":"f","k":"t","x":-14,"y":0.006},{"p":"f","k":"t","x":-13.5,"y":0.012},{"p":"f","k":"t","x":-13,"y":0.03},{"p":"f","k":"t","x":-12.5,"y":0.06},{"p":"f","k":"t","x":-12,"y":0.1},{"p":"f","k":"t","x":-11.5,"y":0.15},{"p":"f","k":"t","x":-11,"y":0.2},{"p":"f","k":"t","x":-10.5,"y":0.24},{"p":"f","k":"t","x":-10,"y":0.265},{"p":"f","k":"t","x":-9.6,"y":0.271},{"p":"f","k":"t","x":-9.2,"y":0.262},{"p":"f","k":"t","x":-8.8,"y":0.24},{"p":"f","k":"t","x":-8.4,"y":0.215},{"p":"f","k":"t","x":-8,"y":0.19},{"p":"f","k":"t","x":-7.5,"y":0.168},{"p":"f","k":"t","x":-7,"y":0.148},{"p":"f","k":"t","x":-6.5,"y":0.132},{"p":"f","k":"t","x":-6,"y":0.12},{"p":"f","k":"t","x":-5.5,"y":0.11},{"p":"f","k":"t","x":-5,"y":0.1},{"p":"f","k":"t","x":-4,"y":0.082},{"p":"f","k":"t","x":-3,"y":0.066},{"p":"f","k":"t","x":-2,"y":0.053},{"p":"f","k":"t","x":-1,"y":0.043},{"p":"f","k":"t","x":0,"y":0.035},{"p":"f","k":"t","x":1,"y":0.028},{"p":"f","k":"t","x":2,"y":0.022},{"p":"f","k":"t","x":3,"y":0.017},{"p":"f","k":"t","x":4,"y":0.014},{"p":"f","k":"t","x":6,"y":0.008},{"p":"f","k":"t","x":8,"y":0.0045},{"p":"f","k":"t","x":10,"y":0.0025},{"p":"f","k":"t","x":14,"y":0.0008},{"p":"f","k":"t","x":20,"y":0.0002},{"p":"f","k":"t","x":40,"y":0}
]},
"spacing": 4,
"resolve": {"scale": {"x": "independent", "y": "independent", "color": "independent"}},
"vconcat": [
 {"spacing": 32,
  "resolve": {"scale": {"x": "independent", "y": "independent", "color": "independent"}},
  "hconcat": [
  {"width": 177, "height": 133, "title": "time t = 0.744 fs", "data": {"name": "d"}, "transform": [{"filter": "datum.p == 'a'"}],
   "mark": {"type": "line", "strokeWidth": 1.5},
   "encoding": {
    "x": {"field": "x", "type": "quantitative", "scale": {"domain": [-86, 46], "nice": false, "zero": false}, "axis": {"values": [-80,-60,-40,-20,0,20,40], "labels": false, "title": null}},
    "y": {"field": "y", "type": "quantitative", "scale": {"domain": [-0.0125, 0.2575], "nice": false, "zero": false}, "axis": {"values": [0,0.05,0.1,0.15,0.2,0.25], "format": ".2f", "title": "n(x,t)"}},
    "color": {"field": "k", "type": "nominal", "scale": {"domain": ["a","t"], "range": ["#ff0000","#0000ff"]}, "legend": {"title": null, "labelExpr": "datum.label == 'a' ? 'adjoint method' : 'test data'"}}
   }},
  {"width": 177, "height": 133, "title": "time t = 0.768 fs", "data": {"name": "d"}, "transform": [{"filter": "datum.p == 'b'"}],
   "mark": {"type": "line", "strokeWidth": 1.5},
   "encoding": {
    "x": {"field": "x", "type": "quantitative", "scale": {"domain": [-86, 46], "nice": false, "zero": false}, "axis": {"values": [-80,-60,-40,-20,0,20,40], "labels": false, "title": null}},
    "y": {"field": "y", "type": "quantitative", "scale": {"domain": [-0.0125, 0.2575], "nice": false, "zero": false}, "axis": {"values": [0,0.05,0.1,0.15,0.2,0.25], "labels": false, "title": null}},
    "color": {"field": "k", "type": "nominal", "scale": {"domain": ["a","t"], "range": ["#ff0000","#0000ff"]}, "legend": {"title": null, "labelExpr": "datum.label == 'a' ? 'adjoint method' : 'test data'"}}
   }},
  {"width": 177, "height": 133, "title": "time t = 0.792 fs", "data": {"name": "d"}, "transform": [{"filter": "datum.p == 'c'"}],
   "mark": {"type": "line", "strokeWidth": 1.5},
   "encoding": {
    "x": {"field": "x", "type": "quantitative", "scale": {"domain": [-86, 46], "nice": false, "zero": false}, "axis": {"values": [-80,-60,-40,-20,0,20,40], "labels": false, "title": null}},
    "y": {"field": "y", "type": "quantitative", "scale": {"domain": [-0.0125, 0.2575], "nice": false, "zero": false}, "axis": {"values": [0,0.05,0.1,0.15,0.2,0.25], "labels": false, "title": null}},
    "color": {"field": "k", "type": "nominal", "scale": {"domain": ["a","t"], "range": ["#ff0000","#0000ff"]}, "legend": {"title": null, "labelExpr": "datum.label == 'a' ? 'adjoint method' : 'test data'"}}
   }}
 ]},
 {"spacing": 32,
  "resolve": {"scale": {"x": "independent", "y": "independent", "color": "independent"}},
  "hconcat": [
  {"width": 177, "height": 134, "title": "time t = 0.816 fs", "data": {"name": "d"}, "transform": [{"filter": "datum.p == 'd'"}],
   "mark": {"type": "line", "strokeWidth": 1.5},
   "encoding": {
    "x": {"field": "x", "type": "quantitative", "scale": {"domain": [-86, 46], "nice": false, "zero": false}, "axis": {"values": [-80,-60,-40,-20,0,20,40], "labelExpr": "replace(format(datum.value, 'd'), '-', '−')", "title": "x (a.u.)", "labelPadding": 1.5, "titlePadding": 3}},
    "y": {"field": "y", "type": "quantitative", "scale": {"domain": [-0.0137, 0.2835], "nice": false, "zero": false}, "axis": {"values": [0,0.05,0.1,0.15,0.2,0.25], "format": ".2f", "title": "n(x,t)"}},
    "color": {"field": "k", "type": "nominal", "scale": {"domain": ["a","t"], "range": ["#ff0000","#0000ff"]}, "legend": {"title": null, "labelExpr": "datum.label == 'a' ? 'adjoint method' : 'test data'"}}
   }},
  {"width": 177, "height": 134, "title": "time t = 0.84 fs", "data": {"name": "d"}, "transform": [{"filter": "datum.p == 'e'"}],
   "mark": {"type": "line", "strokeWidth": 1.5},
   "encoding": {
    "x": {"field": "x", "type": "quantitative", "scale": {"domain": [-86, 46], "nice": false, "zero": false}, "axis": {"values": [-80,-60,-40,-20,0,20,40], "labelExpr": "replace(format(datum.value, 'd'), '-', '−')", "title": "x (a.u.)", "labelPadding": 1.5, "titlePadding": 3}},
    "y": {"field": "y", "type": "quantitative", "scale": {"domain": [-0.0137, 0.2835], "nice": false, "zero": false}, "axis": {"values": [0,0.05,0.1,0.15,0.2,0.25], "labels": false, "title": null}},
    "color": {"field": "k", "type": "nominal", "scale": {"domain": ["a","t"], "range": ["#ff0000","#0000ff"]}, "legend": {"title": null, "labelExpr": "datum.label == 'a' ? 'adjoint method' : 'test data'"}}
   }},
  {"width": 177, "height": 134, "title": "time t = 0.864 fs", "data": {"name": "d"}, "transform": [{"filter": "datum.p == 'f'"}],
   "mark": {"type": "line", "strokeWidth": 1.5},
   "encoding": {
    "x": {"field": "x", "type": "quantitative", "scale": {"domain": [-86, 46], "nice": false, "zero": false}, "axis": {"values": [-80,-60,-40,-20,0,20,40], "labelExpr": "replace(format(datum.value, 'd'), '-', '−')", "title": "x (a.u.)", "labelPadding": 1.5, "titlePadding": 3}},
    "y": {"field": "y", "type": "quantitative", "scale": {"domain": [-0.0137, 0.2835], "nice": false, "zero": false}, "axis": {"values": [0,0.05,0.1,0.15,0.2,0.25], "labels": false, "title": null}},
    "color": {"field": "k", "type": "nominal", "scale": {"domain": ["a","t"], "range": ["#ff0000","#0000ff"]}, "legend": {"title": null, "labelExpr": "datum.label == 'a' ? 'adjoint method' : 'test data'"}}
   }}
 ]}
]
}
